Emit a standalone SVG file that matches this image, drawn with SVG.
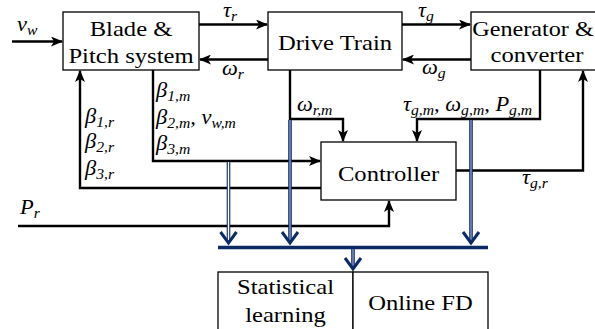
<svg xmlns="http://www.w3.org/2000/svg" width="595" height="329" viewBox="0 0 595 329">
<defs>
<style>
.box{fill:#fff;stroke:#000;stroke-width:1.3}
.ln{fill:none;stroke:#000;stroke-width:2.4}
.lbl{font-family:"Liberation Serif","DejaVu Serif",serif;font-size:22px;fill:#000}
.m{font-family:"Liberation Serif","DejaVu Serif",serif;font-size:20px;font-style:italic;fill:#000}
.s{font-size:14px}
.dbo{fill:none;stroke:#0b2a66;stroke-width:3.6}
.dbi{fill:none;stroke:#fff;stroke-width:1.4}
.dbf{fill:none;stroke:#7a8dbb;stroke-width:1.6}
.chev{fill:none;stroke:#0b2a66;stroke-width:3}
</style>
<marker id="ah" viewBox="0 0 12 10" refX="11" refY="5" markerWidth="12" markerHeight="10" markerUnits="userSpaceOnUse" orient="auto">
<path d="M0,0 L12,5 L0,10 L3,5 Z" fill="#000"/>
</marker>
</defs>
<rect width="595" height="329" fill="#fff"/>

<g id="connectors">
<line class="ln" x1="12" y1="41.5" x2="62" y2="41.5" marker-end="url(#ah)"/>
<line class="ln" x1="199" y1="24.5" x2="267" y2="24.5" marker-end="url(#ah)"/>
<line class="ln" x1="268" y1="59.5" x2="200" y2="59.5" marker-end="url(#ah)"/>
<line class="ln" x1="402" y1="24.5" x2="470" y2="24.5" marker-end="url(#ah)"/>
<line class="ln" x1="471" y1="59.5" x2="403" y2="59.5" marker-end="url(#ah)"/>
<polyline class="ln" points="153,70 153,161 320,161" marker-end="url(#ah)"/>
<polyline class="ln" points="321,188 80,188 80,71" marker-end="url(#ah)"/>
<polyline class="ln" points="290,70 290,119 343,119 343,141" marker-end="url(#ah)"/>
<polyline class="ln" points="540,70 540,119 417,119 417,141" marker-end="url(#ah)"/>
<polyline class="ln" points="456,170.5 583,170.5 583,71" marker-end="url(#ah)"/>
<polyline class="ln" points="18,226 389,226 389,201" marker-end="url(#ah)"/>

<line class="dbo" x1="228.5" y1="162" x2="228.5" y2="241"/>
<line class="dbi" x1="228.5" y1="162" x2="228.5" y2="241"/>
<line class="dbo" x1="290" y1="120" x2="290" y2="241"/>
<line class="dbf" x1="290" y1="120" x2="290" y2="241"/>
<line class="dbo" x1="471" y1="120" x2="471" y2="241"/>
<line class="dbf" x1="471" y1="120" x2="471" y2="241"/>
<polyline class="chev" points="220.5,232 228.5,243 236.5,232"/>
<polyline class="chev" points="282,232 290,243 298,232"/>
<polyline class="chev" points="463,232 471,243 479,232"/>
<line x1="218" y1="247.5" x2="488" y2="247.5" stroke="#0b2a66" stroke-width="3.4"/>
<line class="dbo" x1="353" y1="249" x2="353" y2="268"/>
<line class="dbf" x1="353" y1="249" x2="353" y2="268"/>
<polyline class="chev" points="345,258 353,269 361,258"/>
</g>

<g id="blade">
<rect class="box" x="63" y="12" width="136" height="58"/>
<text class="lbl" transform="translate(131,36) scale(1.12,1)" text-anchor="middle">Blade &amp;</text>
<text class="lbl" transform="translate(131,63) scale(1.12,1)" text-anchor="middle">Pitch system</text>
</g>
<g id="drive">
<rect class="box" x="268" y="12" width="134" height="58"/>
<text class="lbl" transform="translate(335,50) scale(1.12,1)" text-anchor="middle">Drive Train</text>
</g>
<g id="generator">
<rect class="box" x="471" y="12" width="134" height="58"/>
<text class="lbl" transform="translate(533,36) scale(1.1,1)" text-anchor="middle">Generator &amp;</text>
<text class="lbl" transform="translate(537,62) scale(1.12,1)" text-anchor="middle">converter</text>
</g>
<g id="controller">
<rect class="box" x="321" y="142" width="135" height="58"/>
<text class="lbl" transform="translate(388.5,181) scale(1.12,1)" text-anchor="middle">Controller</text>
</g>
<g id="fd">
<rect class="box" x="218" y="272" width="135" height="70"/>
<rect class="box" x="353" y="272" width="135" height="70"/>
<text class="lbl" transform="translate(285.5,294) scale(1.12,1)" text-anchor="middle">Statistical</text>
<text class="lbl" transform="translate(285.5,322) scale(1.12,1)" text-anchor="middle">learning</text>
<text class="lbl" transform="translate(420.5,310) scale(1.12,1)" text-anchor="middle">Online FD</text>
</g>

<g id="labels">
<text class="m" transform="translate(17,31) scale(1.12,1)">v<tspan class="s" dy="4">w</tspan></text>
<text class="m" transform="translate(223,17) scale(1.12,1)">τ<tspan class="s" dy="4">r</tspan></text>
<text class="m" transform="translate(222,75) scale(1.12,1)">ω<tspan class="s" dy="4">r</tspan></text>
<text class="m" transform="translate(418,17) scale(1.12,1)">τ<tspan class="s" dy="4">g</tspan></text>
<text class="m" transform="translate(422,74) scale(1.12,1)">ω<tspan class="s" dy="4">g</tspan></text>
<text class="m" transform="translate(156,97) scale(1.12,1)">β<tspan class="s" dy="4">1,m</tspan></text>
<text class="m" transform="translate(156,124) scale(1.12,1)">β<tspan class="s" dy="4">2,m</tspan><tspan dy="-4">, v</tspan><tspan class="s" dy="4">w,m</tspan></text>
<text class="m" transform="translate(156,150) scale(1.12,1)">β<tspan class="s" dy="4">3,m</tspan></text>
<text class="m" transform="translate(85,123) scale(1.12,1)">β<tspan class="s" dy="4">1,r</tspan></text>
<text class="m" transform="translate(85,148) scale(1.12,1)">β<tspan class="s" dy="4">2,r</tspan></text>
<text class="m" transform="translate(85,175) scale(1.12,1)">β<tspan class="s" dy="4">3,r</tspan></text>
<text class="m" transform="translate(297,111) scale(1.12,1)">ω<tspan class="s" dy="4">r,m</tspan></text>
<text class="m" transform="translate(403,111) scale(1.12,1)">τ<tspan class="s" dy="4">g,m</tspan><tspan dy="-4">, ω</tspan><tspan class="s" dy="4">g,m</tspan><tspan dy="-4">, P</tspan><tspan class="s" dy="4">g,m</tspan></text>
<text class="m" transform="translate(522,184) scale(1.12,1)">τ<tspan class="s" dy="4">g,r</tspan></text>
<text class="m" transform="translate(20,214) scale(1.12,1)">P<tspan class="s" dy="4">r</tspan></text>
</g>
</svg>
